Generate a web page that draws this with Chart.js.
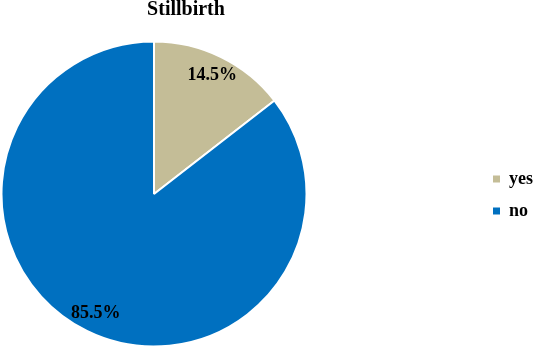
<!DOCTYPE html>
<html>
<head>
<meta charset="utf-8">
<script src="https://cdn.jsdelivr.net/npm/chart.js@4.4.1/dist/chart.umd.min.js"></script>
<style>
  html, body { margin: 0; padding: 0; background: #fff; }
  #wrap { width: 536px; height: 348px; position: relative; }
</style>
</head>
<body>
<div id="wrap"><canvas id="pieChart"></canvas></div>
<script>
const categories = ['yes', 'no'];
const percentages = [14.5, 85.5];
const sliceColors = ['#C4BD97', '#0070C0'];

const serif = "'Liberation Serif', 'Times New Roman', serif";

// percent labels inside each slice
const sliceLabels = {
    id: 'sliceLabels',
    afterDatasetsDraw(chart) {
        const ctx = chart.ctx;
        const meta = chart.getDatasetMeta(0);
        const values = chart.data.datasets[0].data;
        const total = values.reduce((a, b) => a + b, 0);
        ctx.save();
        ctx.font = 'bold 18px ' + serif;
        ctx.fillStyle = '#000';
        ctx.textAlign = 'center';
        ctx.textBaseline = 'middle';
        meta.data.forEach((arc, i) => {
            const p = arc.getProps(['startAngle', 'endAngle', 'x', 'y', 'outerRadius'], true);
            const mid = (p.startAngle + p.endAngle) / 2;
            const r = p.outerRadius * 0.87;
            const txt = (values[i] / total * 100).toFixed(1) + '%';
            ctx.fillText(txt, p.x + Math.cos(mid) * r, p.y + Math.sin(mid) * r);
        });
        ctx.restore();
    }
};

// move the legend out to the right edge
const legendPlace = {
    id: 'legendPlace',
    afterLayout(chart) {
        const lg = chart.legend;
        const w = lg.width;
        lg.left = 479;
        lg.right = lg.left + w;
        lg.top = 156;
    }
};

const ctx = document.getElementById('pieChart').getContext('2d');
const pieChart = new Chart(ctx, {
    type: 'pie',
    data: {
        labels: categories,
        datasets: [{
            data: percentages,
            backgroundColor: sliceColors,
            borderColor: '#ffffff',
            borderWidth: 2,
            radius: 152.5
        }]
    },
    options: {
        responsive: true,
        maintainAspectRatio: false,
        animation: false,
        layout: { padding: { left: 0, right: 164, top: 0, bottom: 0 } },
        plugins: {
            title: {
                display: true,
                text: 'Stillbirth',
                color: '#000',
                font: { family: serif, size: 20, weight: 'bold', lineHeight: 1 },
                padding: { top: 0, bottom: 20 }
            },
            legend: {
                position: 'right',
                align: 'start',
                labels: {
                    color: '#000',
                    font: { family: serif, size: 18, weight: 'bold' },
                    boxWidth: 7,
                    boxHeight: 7,
                    padding: 14,
                    generateLabels(chart) {
                        const items = Chart.overrides.pie.plugins.legend.labels.generateLabels(chart);
                        items.forEach(it => { it.lineWidth = 0; });
                        return items;
                    }
                }
            },
            tooltip: { enabled: false }
        }
    },
    plugins: [sliceLabels, legendPlace]
});
</script>
</body>
</html>
